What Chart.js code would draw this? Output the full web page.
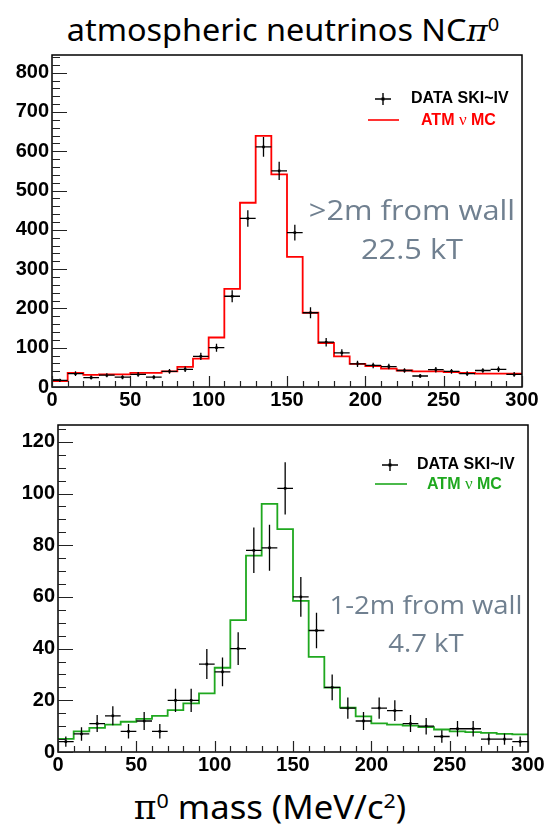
<!DOCTYPE html>
<html>
<head>
<meta charset="utf-8">
<script src="https://cdn.jsdelivr.net/npm/chart.js@4/dist/chart.umd.min.js"></script>
<style>
  html, body { margin: 0; padding: 0; background: #fff; }
  body { width: 547px; height: 829px; position: relative; overflow: hidden; }
  .panel { position: absolute; left: 0; width: 547px; height: 372px; }
  .note { position: absolute; color: #708090; font-family: "Open Sans", sans-serif; text-align: center; white-space: nowrap; transform: translate(-50%, -50%) scaleX(1.1); }
  #title { position: absolute; left: 283px; top: 29px; transform: translate(-50%, -50%) scaleX(1.08); font-family: "Noto Sans", sans-serif; font-size: 30px; white-space: nowrap; color: #000; }
  #xlabel { position: absolute; left: 270px; top: 806px; transform: translate(-50%, -50%) scaleX(1.05); font-family: "Noto Sans", sans-serif; font-size: 33px; white-space: nowrap; color: #000; }
  .pi { font-family: "DejaVu Serif", serif; }
  sup { font-size: 62%; vertical-align: 0; position: relative; top: -0.55em; }
</style>
</head>
<body>
<div id="title">atmospheric neutrinos NC<span class="pi" style="font-style:italic">π</span><sup>0</sup></div>

<div class="panel" style="top:40px"><canvas id="topChart" width="547" height="372"></canvas></div>
<div class="panel" style="top:410px"><canvas id="bottomChart" width="547" height="372"></canvas></div>

<div class="note" style="left:412px; top:209px; font-size:28px">&gt;2m from wall</div>
<div class="note" style="left:412px; top:248px; font-size:28px">22.5 kT</div>
<div class="note" style="left:426px; top:604px; font-size:25px">1-2m from wall</div>
<div class="note" style="left:426px; top:642px; font-size:25px">4.7 kT</div>

<div id="xlabel"><span class="pi">π</span><sup>0</sup> mass (MeV/c<sup>2</sup>)</div>

<script>
// bin centres (MeV/c^2), 10 MeV wide bins
var massBins = [5, 15, 25, 35, 45, 55, 65, 75, 85, 95, 105, 115, 125, 135, 145,
                155, 165, 175, 185, 195, 205, 215, 225, 235, 245, 255, 265, 275, 285, 295];
var binHalfWidth = 5;

// >2m from wall, 22.5 kT
var topData = [17, 34, 24, 30, 25, 32, 25, 40, 45, 78, 100, 231, 429, 611, 550,
               393, 189, 114, 87, 59, 55, 52, 42, 28, 44, 40, 34, 42, 45, 32];
var topErr  = [4, 6, 5, 5, 5, 6, 5, 6, 7, 9, 10, 15, 21, 25, 23,
               20, 14, 11, 9, 8, 7, 7, 6, 5, 7, 6, 6, 6, 7, 6];
var topMC   = [15, 36, 31, 32, 32, 36, 36, 40, 51, 72, 126, 250, 469, 639, 541,
               331, 189, 112, 78, 59, 53, 47, 42, 40, 40, 38, 36, 34, 34, 34];

// 1-2m from wall, 4.7 kT
var bottomData = [4, 7, 11, 14, 8, 12, 8, 20, 20, 34, 31, 40, 78, 79, 102,
                  60, 47, 25, 17, 12, 17, 16, 11, 10, 6, 9, 9, 5, 5, 4];
var bottomErr  = [2, 2.6, 3.3, 3.7, 2.8, 3.5, 2.8, 4.5, 4.5, 5.8, 5.6, 6.3, 8.8, 8.9, 10.1,
                  7.7, 6.9, 5, 4.1, 3.5, 4.1, 4, 3.3, 3.2, 2.4, 3, 3, 2.2, 2.2, 2];
var bottomMC   = [5.1, 8, 9.3, 10.6, 11.7, 12.8, 14, 16.2, 18.8, 22.7, 32.6, 51, 76, 96, 86.2,
                  58.5, 36.8, 24.9, 17.2, 13.8, 11.1, 10.6, 10.2, 9.6, 8.7, 8.0, 7.7, 7.4, 7.0, 6.8];

var xTicks = { min: 0, max: 300, major: 50, minor: 10 };
var topTicks = { min: 0, max: 845, major: 100, minor: 20 };
var bottomTicks = { min: 0, max: 126.5, major: 20, minor: 5 };

var tickFont = { family: '"Liberation Sans", Arial, sans-serif', size: 20, weight: 'bold' };

// histogram outline: one point per bin left edge + closing right edge
function stepPoints(values) {
  var pts = values.map(function(v, i) { return { x: massBins[i] - binHalfWidth, y: v }; });
  pts.push({ x: massBins[massBins.length - 1] + binHalfWidth, y: values[values.length - 1] });
  return pts;
}

function dataPoints(values) {
  return values.map(function(v, i) { return { x: massBins[i], y: v }; });
}

// frame, ROOT style inner ticks, error bars, legend
var rootStyle = {
  id: 'rootStyle',
  afterDatasetsDraw: function(chart, args, opts) {
    var ctx = chart.ctx, xs = chart.scales.x, ys = chart.scales.y;
    var vals = opts.values, errs = opts.errors;
    ctx.save();
    ctx.strokeStyle = '#000';
    ctx.lineWidth = 1.3;
    ctx.beginPath();
    for (var i = 0; i < vals.length; i++) {
      var px = xs.getPixelForValue(massBins[i]);
      var py = ys.getPixelForValue(vals[i]);
      ctx.moveTo(xs.getPixelForValue(massBins[i] - binHalfWidth), py);
      ctx.lineTo(xs.getPixelForValue(massBins[i] + binHalfWidth), py);
      ctx.moveTo(px, ys.getPixelForValue(vals[i] - errs[i]));
      ctx.lineTo(px, ys.getPixelForValue(vals[i] + errs[i]));
    }
    ctx.stroke();
    ctx.restore();
  },
  afterDraw: function(chart, args, opts) {
    var ctx = chart.ctx, a = chart.chartArea, xs = chart.scales.x, ys = chart.scales.y;
    var t = opts.yTicks, v;
    ctx.save();
    ctx.strokeStyle = '#000';
    ctx.lineWidth = 1.5;
    ctx.strokeRect(a.left, a.top, a.right - a.left, a.bottom - a.top);

    ctx.lineWidth = 1.2;
    ctx.strokeStyle = '#222';
    ctx.beginPath();
    for (v = t.min; v <= t.max; v += t.minor) {
      var py = Math.round(ys.getPixelForValue(v)) + 0.5;
      var len = (v % t.major === 0) ? 15 : 8;
      ctx.moveTo(a.left, py);
      ctx.lineTo(a.left + len, py);
    }
    for (v = xTicks.min; v <= xTicks.max; v += xTicks.minor) {
      var px = Math.round(xs.getPixelForValue(v)) + 0.5;
      var lenx = (v % xTicks.major === 0) ? 11 : 6;
      ctx.moveTo(px, a.bottom);
      ctx.lineTo(px, a.bottom - lenx);
    }
    ctx.stroke();

    // legend
    var lg = opts.legend;
    ctx.lineWidth = 1.4;
    ctx.strokeStyle = '#000';
    ctx.beginPath();
    ctx.moveTo(lg.markX - 8, lg.row1);
    ctx.lineTo(lg.markX + 8, lg.row1);
    ctx.moveTo(lg.markX, lg.row1 - 6);
    ctx.lineTo(lg.markX, lg.row1 + 6);
    ctx.stroke();
    ctx.fillStyle = '#000';
    ctx.fillRect(lg.markX - 1.5, lg.row1 - 1.5, 3, 3);

    ctx.strokeStyle = opts.color;
    ctx.lineWidth = 1.6;
    ctx.beginPath();
    ctx.moveTo(lg.lineX0, lg.row2);
    ctx.lineTo(lg.lineX1, lg.row2);
    ctx.stroke();

    var bold = 'bold 16px "Liberation Sans", Arial, sans-serif';
    ctx.textBaseline = 'middle';
    ctx.textAlign = 'left';
    ctx.font = bold;
    ctx.fillStyle = '#000';
    ctx.fillText('DATA SKI~IV', lg.text1X, lg.row1);

    ctx.fillStyle = opts.color;
    var x = lg.text2X;
    ctx.fillText('ATM ', x, lg.row2 + 1);
    x += ctx.measureText('ATM ').width;
    ctx.font = '17px "Liberation Serif", serif';
    ctx.fillText('\u03bd', x, lg.row2 + 1);
    x += ctx.measureText('\u03bd').width;
    ctx.font = bold;
    ctx.fillText(' MC', x, lg.row2 + 1);
    ctx.restore();
  }
};

function makeChart(id, values, errs, mc, yt, color, layout, legend) {
  return new Chart(document.getElementById(id), {
    type: 'scatter',
    data: {
      datasets: [{
        label: 'ATM nu MC',
        type: 'line',
        data: stepPoints(mc),
        stepped: 'before',
        borderColor: color,
        borderWidth: 1.8,
        pointRadius: 0,
        fill: false
      }, {
        label: 'DATA SKI~IV',
        data: dataPoints(values),
        pointStyle: 'rect',
        pointRadius: 1.8,
        backgroundColor: '#000',
        borderColor: '#000',
        borderWidth: 0
      }]
    },
    options: {
      responsive: false,
      animation: false,
      events: [],
      layout: { padding: { top: layout.top, right: layout.right, left: 0, bottom: 0 } },
      plugins: {
        legend: { display: false },
        tooltip: { enabled: false },
        rootStyle: { values: values, errors: errs, yTicks: yt, legend: legend, color: color }
      },
      scales: {
        x: {
          type: 'linear',
          min: xTicks.min,
          max: xTicks.max,
          grid: { display: false, drawTicks: false },
          border: { display: false },
          ticks: { stepSize: xTicks.major, font: tickFont, color: '#000', padding: 1, maxRotation: 0 },
          afterFit: function(s) { s.height = layout.xHeight; }
        },
        y: {
          min: yt.min,
          max: yt.max,
          grid: { display: false, drawTicks: false },
          border: { display: false },
          ticks: { stepSize: yt.major, includeBounds: false, font: tickFont, color: '#000', padding: 3 },
          afterFit: function(s) { s.width = layout.yWidth; }
        }
      }
    },
    plugins: [rootStyle]
  });
}

makeChart('topChart', topData, topErr, topMC, topTicks, '#ff0000',
  { top: 15, right: 25, xHeight: 25, yWidth: 52 },
  { markX: 383, row1: 59, row2: 80, lineX0: 368, lineX1: 399, text1X: 411, text2X: 421 });

makeChart('bottomChart', bottomData, bottomErr, bottomMC, bottomTicks, '#1fa81f',
  { top: 11, right: 19, xHeight: 30, yWidth: 58 },
  { markX: 390, row1: 55, row2: 74, lineX0: 375, lineX1: 407, text1X: 417, text2X: 427 });
</script>
</body>
</html>
